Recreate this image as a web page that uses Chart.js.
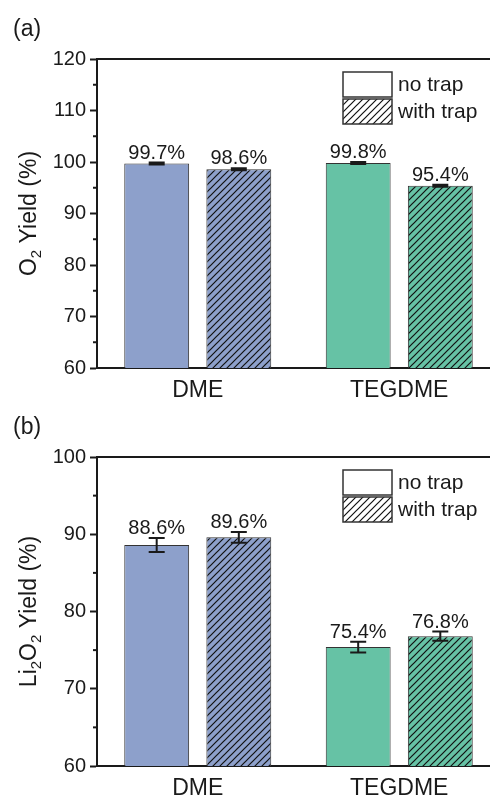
<!DOCTYPE html>
<html>
<head>
<meta charset="utf-8">
<script src="https://cdn.jsdelivr.net/npm/chart.js@4.4.1/dist/chart.umd.min.js"></script>
<style>
html, body { margin:0; padding:0; background:#fff; width:490px; height:797px; overflow:hidden; }
canvas { position:absolute; left:0; }
#ChartA { top:0; }
#ChartB { top:398px; }
</style>
</head>
<body>
<canvas id="ChartA" width="510" height="398"></canvas>
<canvas id="ChartB" width="510" height="399"></canvas>
<script>
const Categories = ['DME', 'TEGDME'];
const SeriesNames = ['no trap', 'with trap'];

// (a) O2 yield
const O2NoTrap = [99.7, 99.8];
const O2WithTrap = [98.6, 95.4];
const O2NoTrapErr = [0.2, 0.2];
const O2WithTrapErr = [0.2, 0.2];
const O2Ticks = [60, 70, 80, 90, 100, 110, 120];

// (b) Li2O2 yield
const Li2O2NoTrap = [88.6, 75.4];
const Li2O2WithTrap = [89.6, 76.8];
const Li2O2NoTrapErr = [0.9, 0.7];
const Li2O2WithTrapErr = [0.7, 0.6];
const Li2O2Ticks = [60, 70, 80, 90, 100];

const Blue = '#8da0cb';
const Green = '#66c2a5';
const Ink = '#1a1a1a';
const FontName = '"Liberation Sans", Arial, sans-serif';

function hatch(color) {
    const n = 7;
    const c = document.createElement('canvas');
    c.width = n;
    c.height = n;
    const g = c.getContext('2d');
    g.fillStyle = color;
    g.fillRect(0, 0, n, n);
    g.strokeStyle = '#111';
    g.lineWidth = 1.2;
    g.beginPath();
    g.moveTo(-1, n + 1); g.lineTo(n + 1, -1);
    g.moveTo(-n / 2 - 1, n / 2 + 1); g.lineTo(n / 2 + 1, -n / 2 - 1);
    g.moveTo(n / 2 - 1, n * 1.5 + 1); g.lineTo(n * 1.5 + 1, n / 2 - 1);
    g.stroke();
    return g.createPattern(c, 'repeat');
}

function drawRich(ctx, parts, size) {
    // parts laid out along the current x direction, centred on 0
    let total = 0;
    parts.forEach(p => {
        ctx.font = (p.sub ? Math.round(size * 0.65) : size) + 'px ' + FontName;
        p.w = ctx.measureText(p.t).width;
        total += p.w;
    });
    let x = -total / 2;
    parts.forEach(p => {
        ctx.font = (p.sub ? Math.round(size * 0.65) : size) + 'px ' + FontName;
        ctx.fillText(p.t, x, p.sub ? size * 0.22 : 0);
        x += p.w;
    });
}

const decorate = {
    id: 'decorate',
    afterDatasetsDraw(chart, args, opts) {
        const ctx = chart.ctx;
        const area = chart.chartArea;
        const y = chart.scales.y;
        ctx.save();

        // frame top line
        ctx.strokeStyle = Ink;
        ctx.lineWidth = 2;
        ctx.beginPath();
        ctx.moveTo(area.left - 1, area.top);
        ctx.lineTo(area.right + 1, area.top);
        ctx.stroke();

        // minor ticks
        for (let v = y.min + 5; v < y.max; v += 10) {
            const py = y.getPixelForValue(v);
            ctx.beginPath();
            ctx.moveTo(area.left - 4, py);
            ctx.lineTo(area.left, py);
            ctx.stroke();
        }

        // error bars and value labels
        chart.data.datasets.forEach((ds, di) => {
            const meta = chart.getDatasetMeta(di);
            meta.data.forEach((bar, i) => {
                const v = ds.data[i];
                const e = ds.errors[i];
                const top = y.getPixelForValue(v + e);
                const bot = y.getPixelForValue(v - e);
                ctx.strokeStyle = Ink;
                ctx.lineWidth = 2;
                ctx.beginPath();
                ctx.moveTo(bar.x, top); ctx.lineTo(bar.x, bot);
                ctx.moveTo(bar.x - 8, top); ctx.lineTo(bar.x + 8, top);
                ctx.moveTo(bar.x - 8, bot); ctx.lineTo(bar.x + 8, bot);
                ctx.stroke();

                ctx.fillStyle = Ink;
                ctx.font = '20px ' + FontName;
                ctx.textAlign = 'center';
                ctx.textBaseline = 'alphabetic';
                ctx.fillText(v.toFixed(1) + '%', bar.x, top - 4);
            });
        });

        // legend
        const bx = 343, bw = 49, bh = 25;
        const rows = [{ y: 72, fill: '#fff' }, { y: 99, fill: hatch('#fff') }];
        rows.forEach((r, i) => {
            ctx.fillStyle = r.fill;
            ctx.fillRect(bx, r.y, bw, bh);
            ctx.strokeStyle = '#333';
            ctx.lineWidth = 1.5;
            ctx.strokeRect(bx, r.y, bw, bh);
            ctx.fillStyle = Ink;
            ctx.font = '21px ' + FontName;
            ctx.textAlign = 'left';
            ctx.textBaseline = 'middle';
            ctx.fillText(SeriesNames[i], bx + bw + 6, r.y + bh / 2 + 1);
        });

        // panel letter
        ctx.font = '23px ' + FontName;
        ctx.textAlign = 'left';
        ctx.textBaseline = 'middle';
        ctx.fillText(opts.letter, 13, 30);

        // y axis title with subscripts
        ctx.translate(36, (area.top + area.bottom) / 2);
        ctx.rotate(-Math.PI / 2);
        ctx.textAlign = 'left';
        ctx.textBaseline = 'alphabetic';
        drawRich(ctx, opts.title, 23);

        ctx.restore();
    }
};

function makeChart(el, noTrap, withTrap, noErr, withErr, ticks, letter, title) {
    return new Chart(el, {
        type: 'bar',
        data: {
            labels: Categories,
            datasets: [{
                label: SeriesNames[0],
                data: noTrap,
                errors: noErr,
                backgroundColor: [Blue, Green],
                borderColor: '#333',
                borderWidth: 1
            }, {
                label: SeriesNames[1],
                data: withTrap,
                errors: withErr,
                backgroundColor: [hatch(Blue), hatch(Green)],
                borderColor: '#333',
                borderWidth: 1
            }]
        },
        options: {
            responsive: false,
            animation: false,
            devicePixelRatio: 1,
            layout: { padding: { left: 0, top: 59, right: 10, bottom: 0 } },
            datasets: { bar: { categoryPercentage: 0.815, barPercentage: 0.79 } },
            plugins: {
                legend: { display: false },
                tooltip: { enabled: false },
                decorate: { letter: letter, title: title }
            },
            scales: {
                x: {
                    grid: { display: false, drawTicks: false },
                    border: { color: Ink, width: 2 },
                    ticks: { color: Ink, font: { family: FontName, size: 23 }, padding: 9 },
                    afterFit: s => { s.height = el.height - 59 - 309; }
                },
                y: {
                    min: ticks[0],
                    max: ticks[ticks.length - 1],
                    afterBuildTicks: s => { s.ticks = ticks.map(v => ({ value: v })); },
                    grid: { drawOnChartArea: false, tickLength: 7, tickColor: Ink, tickWidth: 2 },
                    border: { color: Ink, width: 2 },
                    ticks: { color: Ink, font: { family: FontName, size: 20 }, padding: 4 },
                    afterFit: s => { s.width = 97; }
                }
            }
        },
        plugins: [decorate]
    });
}

makeChart(document.getElementById('ChartA'), O2NoTrap, O2WithTrap, O2NoTrapErr, O2WithTrapErr, O2Ticks,
    '(a)', [{ t: 'O' }, { t: '2', sub: true }, { t: ' Yield (%)' }]);
makeChart(document.getElementById('ChartB'), Li2O2NoTrap, Li2O2WithTrap, Li2O2NoTrapErr, Li2O2WithTrapErr, Li2O2Ticks,
    '(b)', [{ t: 'Li' }, { t: '2', sub: true }, { t: 'O' }, { t: '2', sub: true }, { t: ' Yield (%)' }]);
</script>
</body>
</html>
